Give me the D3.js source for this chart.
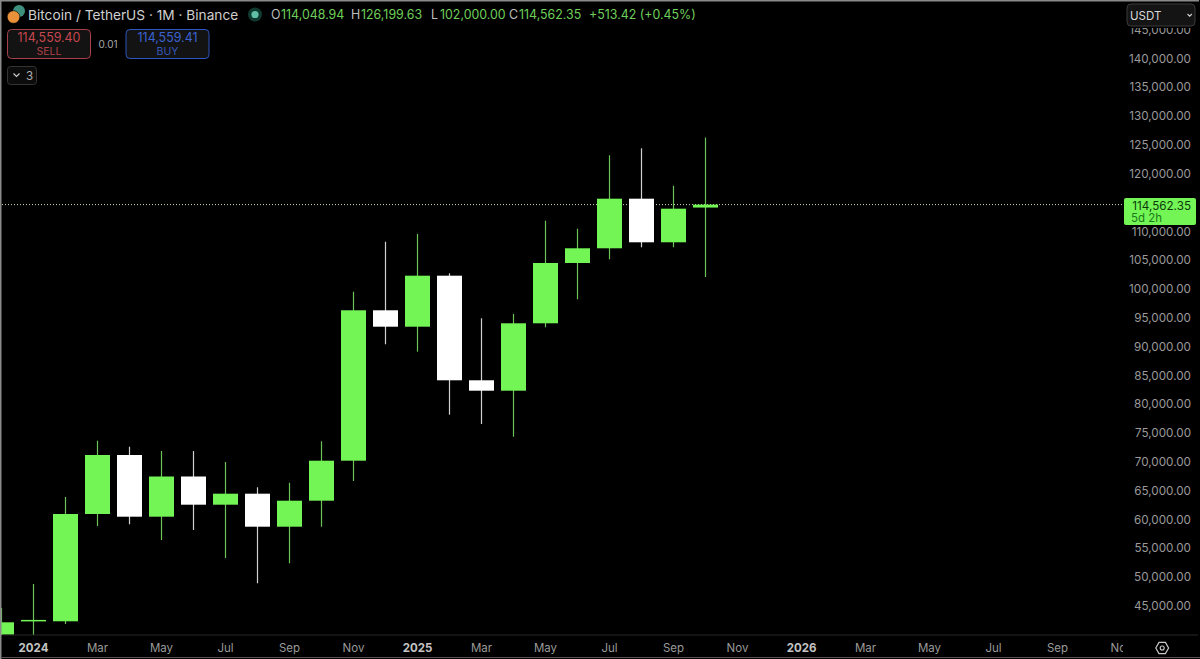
<!DOCTYPE html>
<html><head><meta charset="utf-8">
<script src="https://cdn.jsdelivr.net/npm/d3@7"></script>
<style>html,body{margin:0;padding:0;background:#000;overflow:hidden}svg{display:block}text{font-family:Inter,"Liberation Sans",sans-serif}</style>
</head><body><svg id="c" width="1200" height="659"></svg>
<script>
// Monthly candles Dec 2023 .. Oct 2025 (index -1 .. 21)
const monthIndex = [-1,0,1,2,3,4,5,6,7,8,9,10,11,12,13,14,15,16,17,18,19,20,21];
const opens  = [39930,42258,42258,60877,71115,60409,67384,62491,64400,58673,63185,70126,96223,93377,102227,84077,82272,93967,104431,106981,115588,108022,114048.94];
const highs  = [44566,48730,63827,73596,72555,71809,71809,69900,65510,66308,73492,99451,108127,109463,102643,94835,95581,111771,110382,123119,124333,117844,126199.63];
const lows   = [37600,38600,41790,58795,59090,56366,58101,53242,48852,52322,58673,66603,90323,89039,78108,76494,74290,93273,98132,105073,107155,107155,102000];
const closes = [42085,42500,60877,71115,60409,67384,62491,64400,58673,63185,70126,96223,93377,102227,84077,82272,93967,104431,106981,115588,108022,113853,114562.35];
const yTicks = [45000,50000,55000,60000,65000,70000,75000,80000,85000,90000,95000,100000,105000,110000,120000,125000,130000,135000,140000,145000];
const xTickIdx = [0,2,4,6,8,10,12,14,16,18,20,22,24,26,28,30,32,34];
const xTickLabels = ["2024","Mar","May","Jul","Sep","Nov","2025","Mar","May","Jul","Sep","Nov","2026","Mar","May","Jul","Sep","Nov"];
const lastPrice = 114562.35;
const legendParts = [["O","#bdbdbd"],["114,048.94","#6fcf5a"],["H","#bdbdbd"],["126,199.63","#6fcf5a"],["L","#bdbdbd"],["102,000.00","#6fcf5a"],["C","#bdbdbd"],["114,562.35","#6fcf5a"],["+513.42 (+0.45%)","#6fcf5a"]];

const UP="#74f556", DOWN="#ffffff", UPW="#6cc458", DOWNW="#d0d0d0";
const svg=d3.select("#c");
svg.append("rect").attr("width",1200).attr("height",659).attr("fill","#000");
const defs=svg.append("defs");
defs.append("clipPath").attr("id","plot").append("rect").attr("x",1).attr("y",2).attr("width",1123).attr("height",633);
defs.append("clipPath").attr("id","xclip").append("rect").attr("x",2).attr("y",636).attr("width",1121).attr("height",20);

const x=d3.scaleLinear().domain([0,1]).range([33.5,65.5]);
const y=d3.scaleLinear().domain([45000,140000]).range([605.5,58]);

const plot=svg.append("g").attr("clip-path","url(#plot)");
plot.append("line").attr("x1",2).attr("x2",1124).attr("y1",y(lastPrice)).attr("y2",y(lastPrice))
  .attr("stroke","#c9dcb8").attr("stroke-width",1).attr("stroke-dasharray","1 2");

const data=monthIndex.map((m,i)=>({m,o:opens[i],h:highs[i],l:lows[i],c:closes[i]}));
const g=plot.selectAll("g.k").data(data).join("g");
g.append("line").attr("x1",d=>x(d.m)).attr("x2",d=>x(d.m)).attr("y1",d=>y(d.h)).attr("y2",d=>y(d.l))
  .attr("stroke",d=>d.c>=d.o?UPW:DOWNW).attr("stroke-width",1.2);
g.append("rect").attr("x",d=>x(d.m)-12.5).attr("width",25)
  .attr("y",d=>y(Math.max(d.o,d.c)))
  .attr("height",d=>Math.max(1.5,Math.abs(y(d.o)-y(d.c))))
  .attr("fill",d=>d.c>=d.o?UP:DOWN);

// y axis
const yAxis=d3.axisRight(y).tickValues(yTicks).tickSize(0).tickPadding(0).tickFormat(d3.format(",.2f"));
const ya=svg.append("g").attr("transform","translate(1191,0)").call(yAxis);
ya.select(".domain").remove();
ya.selectAll("text").attr("text-anchor","end").attr("fill","#9a9a9a").attr("font-size",11.7).attr("dy","0.35em");

// x axis
const xa=svg.append("g").attr("clip-path","url(#xclip)");
xa.selectAll("text").data(xTickIdx).join("text")
  .attr("x",d=>x(d)).attr("y",652).attr("text-anchor","middle")
  .attr("font-size",11.5)
  .attr("font-weight",(d,i)=>/^20/.test(xTickLabels[i])?700:400)
  .attr("fill",(d,i)=>/^20/.test(xTickLabels[i])?"#c4c4c4":"#9a9a9a")
  .text((d,i)=>xTickLabels[i]);
svg.append("line").attr("x1",2).attr("x2",1198).attr("y1",635).attr("y2",635).attr("stroke","#262626");

// price tag
svg.append("rect").attr("x",1124).attr("y",198).attr("width",72).attr("height",27).attr("rx",2).attr("fill",UP);
svg.append("text").attr("x",1191).attr("y",209.5).attr("text-anchor","end").attr("font-size",11.7).attr("fill","#0a3a0a").text(d3.format(",.2f")(lastPrice));
svg.append("text").attr("x",1131).attr("y",222).attr("font-size",11.5).attr("fill","#1a7a1a").text("5d 2h");

// USDT box
svg.append("rect").attr("x",1126).attr("y",0).attr("width",72).attr("height",28).attr("fill","#000");
svg.append("rect").attr("x",1127).attr("y",4).attr("width",68).attr("height",22).attr("rx",4).attr("fill","#141414").attr("stroke","#3a3a3a");
svg.append("text").attr("x",1130).attr("y",20).attr("font-size",11.5).attr("fill","#d8d8d8").text("USDT");
svg.append("path").attr("d","M1187.5 14l2.2 2.2 2.2-2.2").attr("fill","none").attr("stroke","#d0d0d0").attr("stroke-width",1.1);

// settings icon
svg.append("path").attr("d","M1155.8 648l3.2-5.6h6.4l3.2 5.6-3.2 5.6h-6.4z").attr("fill","none").attr("stroke","#c8c8c8").attr("stroke-width",1.2);
svg.append("circle").attr("cx",1162.2).attr("cy",648).attr("r",2).attr("fill","none").attr("stroke","#c8c8c8").attr("stroke-width",1.1);

// header
svg.append("circle").attr("cx",19).attr("cy",11).attr("r",6).attr("fill","#3f8f7f");
svg.append("circle").attr("cx",13.5).attr("cy",17).attr("r",6.3).attr("fill","#e8913a").attr("stroke","#000").attr("stroke-width",.6);
svg.append("text").attr("x",28).attr("y",20).attr("font-size",13.7).attr("fill","#cfcfcf").text("Bitcoin / TetherUS · 1M · Binance");
svg.append("circle").attr("cx",255).attr("cy",14.5).attr("r",7).attr("fill","#0f3a30");
svg.append("circle").attr("cx",255).attr("cy",14.5).attr("r",3.6).attr("fill","#5fc0a5");
const legendX=[271,281,351,361,431,440,509,519,589];
svg.selectAll("text.lg").data(legendParts).join("text").attr("class","lg")
  .attr("x",(d,i)=>legendX[i]).attr("y",19).attr("font-size",12.4)
  .attr("fill",d=>d[1]).text(d=>d[0]);

// sell / buy
function btn(x0,w,stroke,col,price,label){
  svg.append("rect").attr("x",x0).attr("y",29.5).attr("width",w).attr("height",29).attr("rx",4).attr("fill","#131313").attr("stroke",stroke);
  svg.append("text").attr("x",x0+w/2).attr("y",42).attr("text-anchor","middle").attr("font-size",12.4).attr("fill",col).text(price);
  svg.append("text").attr("x",x0+w/2).attr("y",54.5).attr("text-anchor","middle").attr("font-size",10.5).attr("fill",col).attr("opacity",.85).text(label);
}
btn(7.5,83,"#a8404a","#c8474f","114,559.40","SELL");
btn(126,83,"#2f55c0","#3b62d0","114,559.41","BUY");
svg.append("text").attr("x",108).attr("y",48).attr("text-anchor","middle").attr("font-size",10).attr("fill","#a8a8a8").text("0.01");
svg.append("rect").attr("x",7.5).attr("y",66.5).attr("width",29).attr("height",18).attr("rx",3).attr("fill","#0c0c0c").attr("stroke","#333");
svg.append("path").attr("d","M13.5 73.5l3 3 3-3").attr("fill","none").attr("stroke","#d0d0d0").attr("stroke-width",1.1);
svg.append("text").attr("x",26).attr("y",80).attr("font-size",11.5).attr("fill","#b0b0b0").text("3");

// window frame
svg.append("path").attr("d","M0.75 659V0.75H1199").attr("fill","none").attr("stroke","#8a8a8a").attr("stroke-width",1.5);
svg.append("line").attr("x1",1).attr("x2",1200).attr("y1",657.5).attr("y2",657.5).attr("stroke","#555");
</script></body></html>
